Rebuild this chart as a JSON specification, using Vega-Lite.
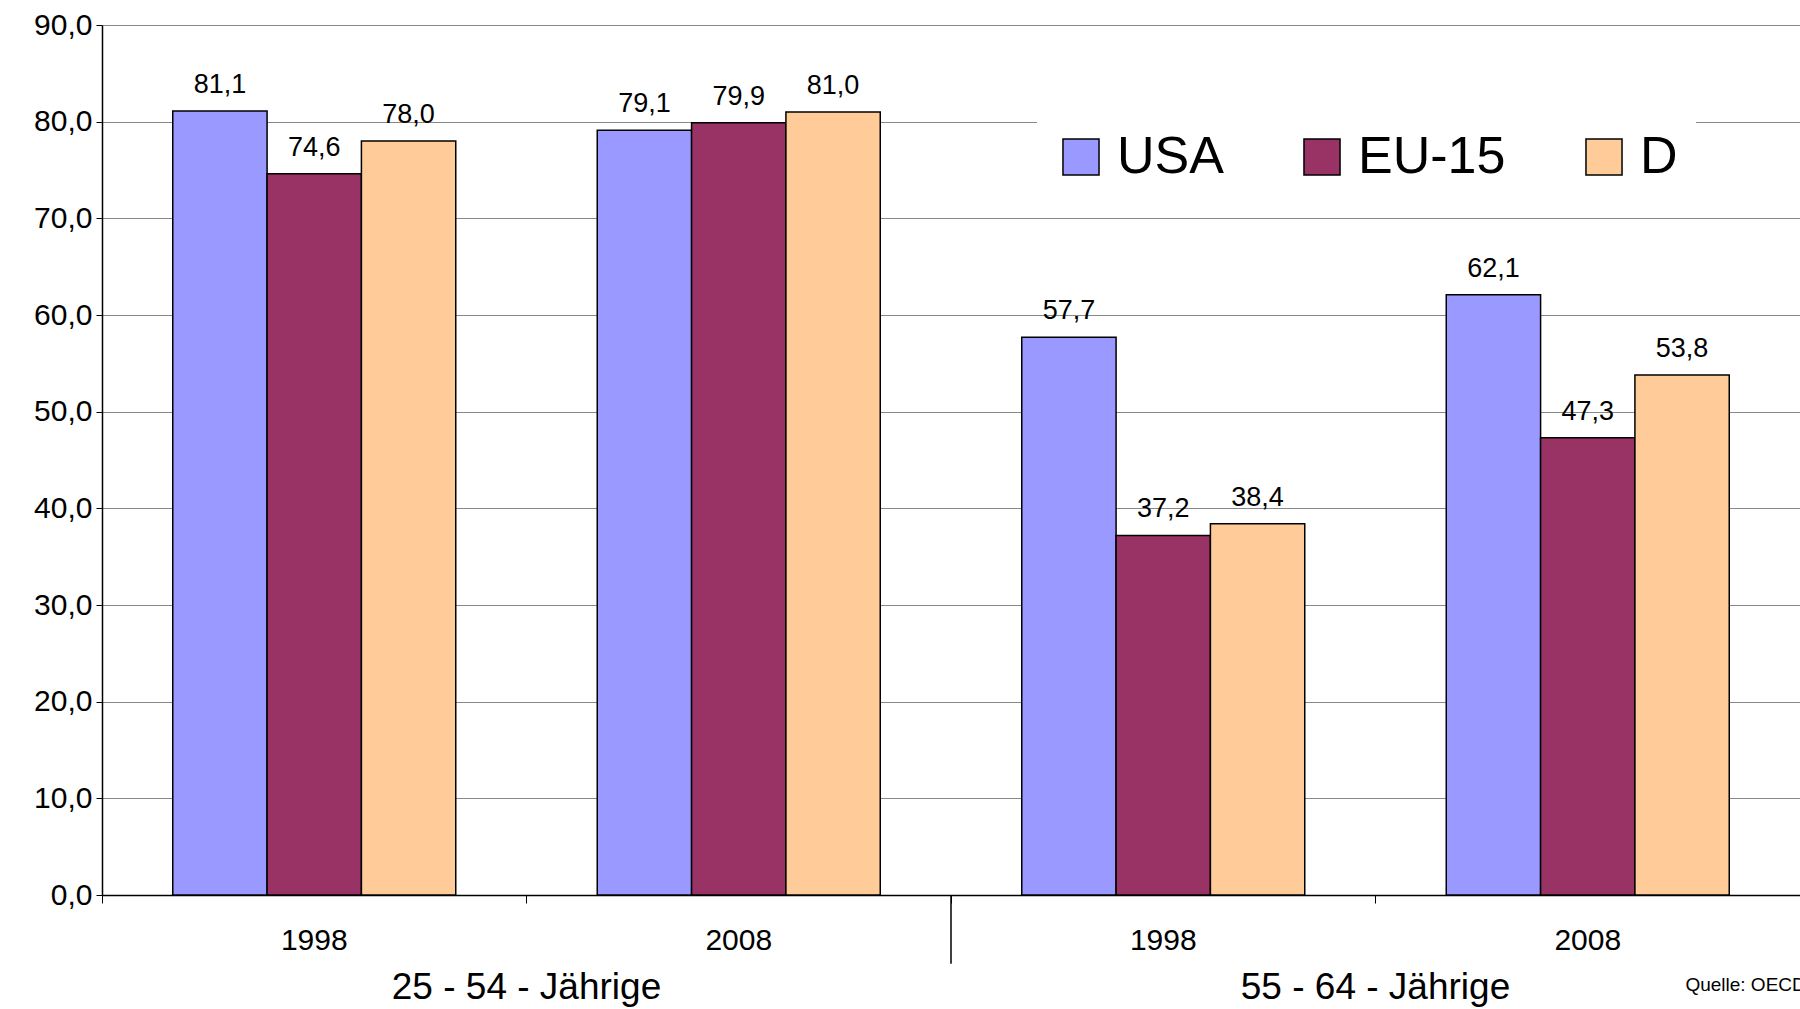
{
  "$schema": "https://vega.github.io/schema/vega-lite/v6.json",
  "autosize": "none",
  "padding": {"left": 102, "top": 25, "right": 0, "bottom": 114},
  "width": 1698,
  "height": 870,
  "background": "white",
  "config": {
    "view": {"stroke": null},
    "font": "Liberation Sans",
    "locale": {"number": {"decimal": ",", "thousands": ".", "grouping": [3], "currency": ["", " €"]}}
  },
  "datasets": {
    "bars": [
      {"key": "25-1998", "year": "1998", "land": "USA", "wert": 81.1},
      {"key": "25-1998", "year": "1998", "land": "EU-15", "wert": 74.6},
      {"key": "25-1998", "year": "1998", "land": "D", "wert": 78.0},
      {"key": "25-2008", "year": "2008", "land": "USA", "wert": 79.1},
      {"key": "25-2008", "year": "2008", "land": "EU-15", "wert": 79.9},
      {"key": "25-2008", "year": "2008", "land": "D", "wert": 81.0},
      {"key": "55-1998", "year": "1998", "land": "USA", "wert": 57.7},
      {"key": "55-1998", "year": "1998", "land": "EU-15", "wert": 37.2},
      {"key": "55-1998", "year": "1998", "land": "D", "wert": 38.4},
      {"key": "55-2008", "year": "2008", "land": "USA", "wert": 62.1},
      {"key": "55-2008", "year": "2008", "land": "EU-15", "wert": 47.3},
      {"key": "55-2008", "year": "2008", "land": "D", "wert": 53.8}
    ],
    "groups": [
      {"key": "25-1998", "label": "25 - 54 - Jährige", "y": -9.6},
      {"key": "55-1998", "label": "55 - 64 - Jährige", "y": -9.6}
    ],
    "sep": [{"key": "55-1998", "y0": 0, "y1": -7.1}],
    "quelle": [{"key": "55-2008", "label": "Quelle: OECD", "y": -9.3}]
  },
  "layer": [
    {
      "data": {"name": "bars"},
      "mark": {"type": "bar", "stroke": "black", "strokeWidth": 1.5},
      "encoding": {
        "x": {
          "field": "key", "type": "nominal", "sort": null,
          "scale": {"paddingInner": 0, "paddingOuter": 0},
          "axis": {
            "title": null, "labelAngle": 0, "bandPosition": 0,
            "labelExpr": "slice(datum.value, 3)",
            "labelFontSize": 30, "labelColor": "black", "labelPadding": 22,
            "domainColor": "black", "domainWidth": 1.5, "tickColor": "black", "tickSize": 8, "grid": false
          }
        },
        "xOffset": {
          "field": "land", "type": "nominal", "sort": ["USA", "EU-15", "D"],
          "scale": {"paddingInner": 0, "paddingOuter": 0.75}
        },
        "y": {
          "field": "wert", "type": "quantitative",
          "scale": {"domain": [0, 90], "nice": false, "clamp": false},
          "axis": {
            "title": null, "values": [0, 10, 20, 30, 40, 50, 60, 70, 80, 90],
            "format": ".1f",
            "labelFontSize": 30, "labelColor": "black", "labelPadding": 4,
            "domainColor": "black", "domainWidth": 1.5, "tickColor": "black", "tickSize": 6,
            "gridColor": "#888888", "gridWidth": 1
          }
        },
        "color": {
          "field": "land", "type": "nominal", "sort": ["USA", "EU-15", "D"],
          "scale": {"domain": ["USA", "EU-15", "D"], "range": ["#9999FF", "#993366", "#FFCC99"]},
          "legend": {
            "title": null, "orient": "none", "direction": "horizontal",
            "legendX": 935, "legendY": 88, "fillColor": "white", "padding": 18,
            "symbolType": "square", "symbolSize": 1300, "symbolStrokeColor": "black", "symbolStrokeWidth": 1.5,
            "symbolOpacity": 1, "labelFontSize": 52, "labelColor": "black", "labelLimit": 300,
            "columnPadding": 72, "labelOffset": 10
          }
        }
      }
    },
    {
      "data": {"name": "bars"},
      "mark": {"type": "text", "baseline": "bottom", "dy": -12, "fontSize": 27, "color": "black"},
      "encoding": {
        "x": {"field": "key", "type": "nominal", "sort": null},
        "xOffset": {"field": "land", "type": "nominal", "sort": ["USA", "EU-15", "D"]},
        "y": {"field": "wert", "type": "quantitative"},
        "text": {"field": "wert", "type": "quantitative", "format": ".1f"}
      }
    },
    {
      "data": {"name": "groups"},
      "mark": {"type": "text", "baseline": "middle", "fontSize": 37, "color": "black"},
      "encoding": {
        "x": {"field": "key", "type": "nominal", "bandPosition": 1},
        "y": {"field": "y", "type": "quantitative"},
        "text": {"field": "label"}
      }
    },
    {
      "data": {"name": "sep"},
      "mark": {"type": "rule", "color": "black", "strokeWidth": 1.5},
      "encoding": {
        "x": {"field": "key", "type": "nominal", "bandPosition": 0},
        "y": {"field": "y0", "type": "quantitative"},
        "y2": {"field": "y1"}
      }
    },
    {
      "data": {"name": "quelle"},
      "mark": {"type": "text", "align": "left", "baseline": "middle", "fontSize": 19, "color": "black"},
      "encoding": {
        "x": {"field": "key", "type": "nominal", "bandPosition": 0.73},
        "y": {"field": "y", "type": "quantitative"},
        "text": {"field": "label"}
      }
    }
  ]
}
